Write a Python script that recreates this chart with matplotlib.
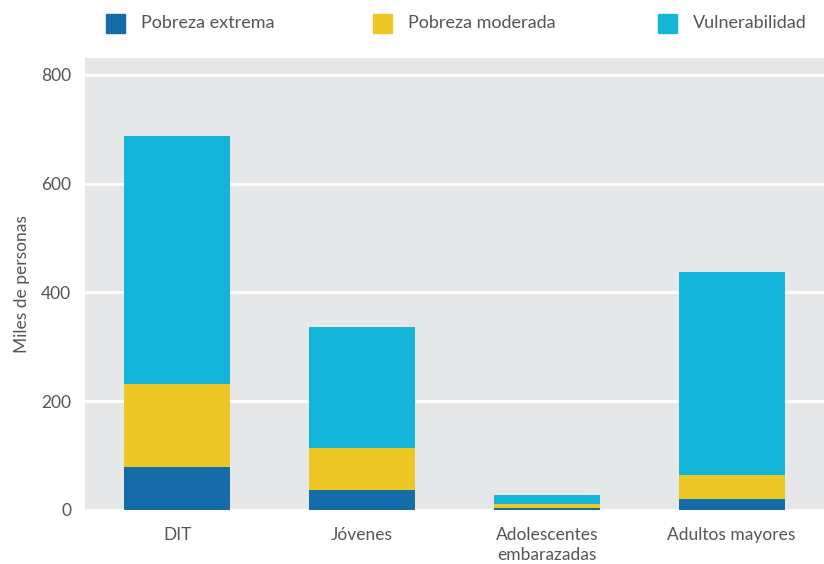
import numpy as np
import matplotlib
matplotlib.use("Agg")
import matplotlib.pyplot as plt
from matplotlib.patches import Rectangle

plt.rcParams['font.family'] = ['Lato', 'DejaVu Sans']

categorias = ["DIT", "Jóvenes", "Adolescentes\nembarazadas", "Adultos mayores"]
pobreza_extrema = [79, 37, 4, 20]
pobreza_moderada = [153, 77, 7, 44]
vulnerabilidad = [455, 222, 17, 373]
series = ["Pobreza extrema", "Pobreza moderada", "Vulnerabilidad"]
colores = ["#156ca9", "#ecc726", "#13b5d9"]
yticks = [0, 200, 400, 600, 800]

gris = "#555555"
W, H = 824, 564

fig = plt.figure(figsize=(8.24, 5.64), dpi=100)
ax = fig.add_axes([85/W, 1 - 510/H, 739/W, 452/H])
ax.set_facecolor("#e6e7e9")

x = np.arange(len(categorias))
w = 0.574
base = np.zeros(len(categorias))
for vals, col, nom in zip([pobreza_extrema, pobreza_moderada, vulnerabilidad], colores, series):
    ax.bar(x, vals, w, bottom=base, color=col, label=nom, zorder=3)
    base = base + np.array(vals)

ax.set_xlim(-0.5, 3.5)
ax.set_ylim(0, 831)
ax.set_yticks(yticks)
ax.set_xticks(x)
ax.set_xticklabels(categorias, fontsize=12.5, color=gris, linespacing=1.3)
ax.tick_params(axis='y', labelsize=12.5, labelcolor=gris, length=0, pad=10)
ax.tick_params(axis='x', length=0, pad=12)
ax.grid(axis='y', color='white', linewidth=2, zorder=1)
for s in ax.spines.values():
    s.set_visible(False)
ax.set_ylabel("Miles de personas", fontsize=12.5, color=gris, labelpad=8)

# leyenda manual arriba
leg_x = [106, 373, 658]
for lx, c, nom in zip(leg_x, colores, series):
    fig.patches.append(Rectangle((lx/W, 1 - 33/H), 19/W, 19/H,
                                 transform=fig.transFigure, color=c))
    fig.text((lx + 35)/W, 1 - 23/H, nom, fontsize=13, color=gris, va='center')

fig.savefig("out.png", dpi=100)
